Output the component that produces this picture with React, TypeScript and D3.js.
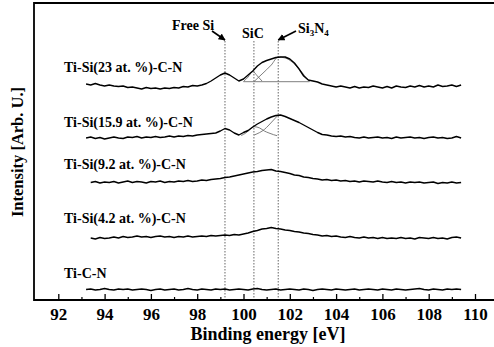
import React, { useEffect, useRef } from "react";
import * as d3 from "d3";

const ENERGY_STEP = 0.2;

const seriesLabels = [
  "Ti-Si(23 at. %)-C-N",
  "Ti-Si(15.9 at. %)-C-N",
  "Ti-Si(9.2 at. %)-C-N",
  "Ti-Si(4.2 at. %)-C-N",
  "Ti-C-N",
];
const seriesStart = [93.2, 93.2, 93.4, 93.4, 93.2];

// intensity, arb. units (stacked, offsets included)
const si23 = [
  216, 215, 216.5, 215, 214, 215, 214, 213.5, 214, 212.5,
  213, 212, 211, 212.5, 211.5, 212, 211, 212, 211.5, 212.5,
  212, 213.5, 213, 214.5, 214, 215, 216.5, 219, 222, 225,
  227, 225, 222, 219, 221, 225, 229, 234, 237.5, 239.5,
  241, 242.5, 243, 243, 241, 237, 231, 224, 220, 219,
  218, 216, 215, 214, 213, 214, 213, 212, 213.5, 212,
  213, 212.5, 214, 213, 212, 213.5, 212, 214, 213, 212.5,
  214, 213, 214.5, 213, 214, 213, 215, 213.5, 214, 215,
  213.5, 215,
];
const si159 = [
  162, 163, 161.5, 162.5, 161, 162, 163, 162, 161.5, 163,
  162.5, 163.5, 162, 163, 162.5, 163.5, 162.5, 163, 164, 163,
  164, 163.5, 164.5, 164, 165, 165.5, 166, 166.5, 167, 169,
  171.5, 170, 167, 165, 167.5, 169.5, 173, 176, 178.5, 181,
  183, 184.5, 185, 183.5, 181.5, 179.5, 177.5, 175, 172.5, 170,
  167.5, 165.5, 165, 164, 163.5, 164, 163, 163.5, 162.5, 162,
  163, 162, 162.5, 163, 162, 162.5, 161.5, 163, 162, 162.5,
  163, 162, 162.5, 161.5, 162.5, 163, 162, 162.5, 161.5, 162,
  163.5, 162,
];
const si92 = [
  117.5, 118.5, 117, 118, 117.5, 118.5, 117, 118, 119, 117.5,
  118.5, 118, 117, 118.5, 118, 119, 117.5, 118.5, 118, 119,
  118.5, 119.5, 118.5, 119, 120, 119.5, 120.5, 121, 121.5, 122.5,
  123, 124, 125, 126, 127, 128, 128.5, 129.5, 130, 130.5,
  129, 128.5, 127.5, 126.5, 125, 124.5, 123, 122.5, 121.5, 121,
  120, 120.5, 119.5, 120, 119, 119.5, 118.5, 119, 118, 119,
  118.5, 118, 119, 118, 117.5, 118.5, 117.5, 118, 117, 118,
  117.5, 118, 117, 117.5, 118, 116.5, 117.5, 117, 118, 117,
  117.5,
];
const si42 = [
  62, 61, 62.5, 61.5, 62, 63, 62, 63.5, 62.5, 63,
  64, 63, 63.5, 62.5, 63.5, 64, 63, 63.5, 62.5, 63.5,
  63, 64, 63, 63.5, 64, 63.5, 64.5, 64, 64.5, 65,
  64.5, 65.5, 65, 66, 67, 68.5, 69.5, 71, 71.5, 72.5,
  71.5, 71, 70, 69.5, 68.5, 68, 67, 66.5, 65.5, 65,
  64, 64.5, 63.5, 64, 63, 62.5, 63.5, 62.5, 62, 63,
  62, 62.5, 61.5, 62.5, 61.5, 62, 61.5, 62.5, 61.5, 62,
  61, 62.5, 62, 61.5, 62.5, 61.5, 62, 61, 62.5, 63,
  62,
];
const tiCN = [
  10.5, 11, 10, 10.5, 11.5, 10.5, 10, 11, 10.5, 11,
  10, 10.5, 11, 10.5, 9.5, 10.5, 11, 10, 10.5, 11,
  10, 10.5, 11.5, 10.5, 10, 11, 10.5, 10, 11, 10.5,
  11, 10, 10.5, 11, 10.5, 10, 11, 11.5, 10.5, 10,
  10.5, 11, 10, 10.5, 11, 10.5, 10, 11, 10.5, 9.5,
  10.5, 11, 10.5, 10, 11, 10.5, 10, 10.5, 11, 10,
  10.5, 11, 10.5, 10, 11, 10.5, 10, 11, 10.5, 10,
  10.5, 11, 11.5, 10.5, 10, 11, 10.5, 10, 11, 10.5,
  11, 10.5,
];
const seriesValues = [si23, si159, si92, si42, tiCN];

// fitted components (thin grey lines)
const fitBase23Energy = [100.0, 102.85];
const fitBase23Value = [218.3, 218.3];
const sic23Energy = [100.0, 100.2, 100.4, 100.6, 100.8];
const sic23Value = [218.5, 223, 228.5, 224, 219];
const sin23Energy = [100.45, 100.8, 101.2, 101.5, 101.8, 102.1, 102.4, 102.65, 102.85];
const sin23Value = [218.3, 226, 235, 243, 242, 238, 231, 224, 218.5];
const sic159Energy = [99.9, 100.1, 100.3, 100.46, 100.7, 100.9, 101.1, 101.3, 101.45];
const sic159Value = [164.5, 167, 171, 173.3, 172, 169, 167, 165.3, 164.3];
const sin159Energy = [100.46, 100.7, 100.9, 101.1, 101.3, 101.5];
const sin159Value = [165, 167.5, 170.5, 175, 180, 185];

const peakNames = ["Free Si", "SiC", "Si3N4"];
const peakEnergy = [99.2, 100.45, 101.5];

const majorTicks = [92, 94, 96, 98, 100, 102, 104, 106, 108, 110];
const minorTicks = [93, 95, 97, 99, 101, 103, 105, 107, 109, 111];

export default function App() {
  const svgRef = useRef<SVGSVGElement>(null);
  const width = 494;
  const height = 347;

  useEffect(() => {
    const svg = d3.select(svgRef.current);
    svg.selectAll("*").remove();
    const font = "'Liberation Serif', 'Times New Roman', serif";

    const x = d3.scaleLinear().domain([92, 110]).range([58.3, 475]);
    const y = d3.scaleLinear().domain([0, 297]).range([300, 3]);

    svg.append("rect").attr("width", width).attr("height", height).attr("fill", "#fff");

    const defs = svg.append("defs");
    defs
      .append("marker")
      .attr("id", "arr")
      .attr("viewBox", "0 0 10 10")
      .attr("refX", 9)
      .attr("refY", 5)
      .attr("markerWidth", 7)
      .attr("markerHeight", 7)
      .attr("markerUnits", "userSpaceOnUse")
      .attr("orient", "auto")
      .append("path")
      .attr("d", "M0,0 L10,5 L0,10 Z")
      .attr("fill", "#000");

    // peak position lines
    peakEnergy.forEach((e) => {
      svg
        .append("line")
        .attr("x1", x(e))
        .attr("x2", x(e))
        .attr("y1", y(259))
        .attr("y2", y(0))
        .attr("stroke", "#555")
        .attr("stroke-width", 0.9)
        .attr("stroke-dasharray", "1.5,1.5");
    });

    // bottom axis
    const major = svg
      .append("g")
      .attr("transform", `translate(0,${y(0)})`)
      .call(d3.axisBottom(x).tickValues(majorTicks).tickSize(-6).tickSizeOuter(0).tickPadding(8).tickFormat(d3.format("d")));
    major.select(".domain").remove();
    major.selectAll("line").attr("stroke-width", 1.3);
    major
      .selectAll("text")
      .attr("font-family", font)
      .attr("font-weight", "bold")
      .attr("font-size", 17);
    const minor = svg
      .append("g")
      .attr("transform", `translate(0,${y(0)})`)
      .call(d3.axisBottom(x).tickValues(minorTicks).tickSize(-3).tickSizeOuter(0).tickFormat(() => ""));
    minor.select(".domain").remove();
    minor.selectAll("line").attr("stroke-width", 1.2);

    // frame: left, top, bottom
    svg
      .append("path")
      .attr("d", `M494,${y(0)} H34 V${y(297)} H494`)
      .attr("fill", "none")
      .attr("stroke", "#000")
      .attr("stroke-width", 1.8);

    // fitted components
    const comps: [number[], number[]][] = [
      [fitBase23Energy, fitBase23Value],
      [sic23Energy, sic23Value],
      [sin23Energy, sin23Value],
      [sic159Energy, sic159Value],
      [sin159Energy, sin159Value],
    ];
    comps.forEach(([es, vs]) => {
      const line = d3
        .line<number>()
        .x((e) => x(e))
        .y((e, i) => y(vs[i]))
        .curve(d3.curveMonotoneX);
      svg
        .append("path")
        .attr("d", line(es))
        .attr("fill", "none")
        .attr("stroke", "#707070")
        .attr("stroke-width", 0.9);
    });

    // spectra
    seriesValues.forEach((vals, k) => {
      const line = d3
        .line<number>()
        .x((v, i) => x(seriesStart[k] + i * ENERGY_STEP))
        .y((v) => y(v));
      svg
        .append("path")
        .attr("d", line(vals))
        .attr("fill", "none")
        .attr("stroke", "#000")
        .attr("stroke-width", 1.4)
        .attr("stroke-linejoin", "round");
    });

    // series labels
    const labelBase = [72, 127, 169, 223, 278];
    seriesLabels.forEach((t, k) => {
      svg
        .append("text")
        .attr("x", 64)
        .attr("y", labelBase[k])
        .attr("font-family", font)
        .attr("font-weight", "bold")
        .attr("font-size", 14)
        .attr("fill", "#000")
        .text(t);
    });

    // peak labels
    const lab = (t: string, px: number, py: number) =>
      svg
        .append("text")
        .attr("x", px)
        .attr("y", py)
        .attr("font-family", font)
        .attr("font-weight", "bold")
        .attr("font-size", 14)
        .text(t);
    lab(peakNames[0], 172, 30);
    lab(peakNames[1], 242, 38);
    const sn = lab("", 298, 33);
    sn.append("tspan").text("Si");
    sn.append("tspan").attr("font-size", 9).attr("dy", 3).text("3");
    sn.append("tspan").attr("dy", -3).text("N");
    sn.append("tspan").attr("font-size", 9).attr("dy", 3).text("4");

    svg
      .append("line")
      .attr("x1", 212)
      .attr("y1", 31)
      .attr("x2", x(peakEnergy[0]))
      .attr("y2", 40)
      .attr("stroke", "#000")
      .attr("stroke-width", 1.6)
      .attr("marker-end", "url(#arr)");
    svg
      .append("line")
      .attr("x1", 296)
      .attr("y1", 31)
      .attr("x2", x(peakEnergy[2]))
      .attr("y2", 40)
      .attr("stroke", "#000")
      .attr("stroke-width", 1.6)
      .attr("marker-end", "url(#arr)");

    // axis titles
    svg
      .append("text")
      .attr("x", 268)
      .attr("y", 340)
      .attr("text-anchor", "middle")
      .attr("font-family", font)
      .attr("font-weight", "bold")
      .attr("font-size", 18)
      .text("Binding energy [eV]");
    svg
      .append("text")
      .attr("transform", "translate(23,152) rotate(-90)")
      .attr("text-anchor", "middle")
      .attr("font-family", font)
      .attr("font-weight", "bold")
      .attr("font-size", 16.5)
      .text("Intensity [Arb. U.]");
  }, []);

  return (
    <svg
      ref={svgRef}
      width={width}
      height={height}
      style={{ position: "absolute", left: 0, top: 0 }}
    ></svg>
  );
}
